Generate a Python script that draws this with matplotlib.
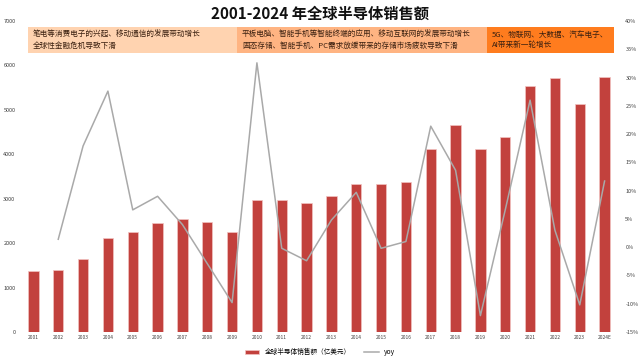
import matplotlib
matplotlib.use("Agg")
import matplotlib.pyplot as plt
from matplotlib.patches import Rectangle
from matplotlib.ticker import FuncFormatter

plt.rcParams['font.family'] = ['Noto Sans CJK SC', 'DejaVu Sans']

years = ["2001", "2002", "2003", "2004", "2005", "2006", "2007", "2008",
         "2009", "2010", "2011", "2012", "2013", "2014", "2015", "2016",
         "2017", "2018", "2019", "2020", "2021", "2022", "2023", "2024E"]
sales = [1380, 1400, 1650, 2110, 2260, 2460, 2550, 2480,
         2240, 2970, 2970, 2900, 3050, 3340, 3340, 3370,
         4110, 4670, 4110, 4390, 5540, 5710, 5130, 5740]
# first year has no growth value
yoy = [None, 1.4, 17.9, 27.6, 6.6, 9.0, 4.0, -2.9,
       -9.8, 32.6, -0.2, -2.4, 4.8, 9.7, -0.2, 1.0,
       21.4, 13.6, -12.1, 6.6, 26.0, 3.0, -10.2, 11.7]

notes = ["笔电等消费电子的兴起、移动通信的发展带动增长\n全球性金融危机导致下滑",
         "平板电脑、智能手机等智能终端的应用、移动互联网的发展带动增长\n固态存储、智能手机、PC需求放缓带来的存储市场疲软导致下滑",
         "5G、物联网、大数据、汽车电子、\nAI带来新一轮增长"]
note_colors = ["#FFD3B0", "#FFB482", "#FF7C1E"]
note_spans = [(28, 237), (237, 487), (487, 614)]

W, H = 640, 359
fig = plt.figure(figsize=(6.4, 3.59), dpi=100)
ax = fig.add_axes([21 / W, 1 - 332 / H, (617 - 21) / W, (332 - 21) / H])
ax2 = ax.twinx()

x = list(range(len(years)))
bar_label = "全球半导体销售额（亿美元）"
bars = ax.bar(x, sales, width=0.42, color="#C2413D", edgecolor="#F2C4C2",
              linewidth=0.5, label=bar_label, zorder=2)
yx = [i for i, v in zip(x, yoy) if v is not None]
yv = [v for v in yoy if v is not None]
line, = ax2.plot(yx, yv, color="#A9A9A9", lw=1.1, label="yoy", zorder=3)

ax.set_xlim(-0.5, len(years) - 0.5)
ax.set_ylim(0, 7000)
ax.set_yticks(range(0, 7001, 1000))
ax2.set_ylim(-15, 40)
ax2.set_yticks(range(-15, 41, 5))
ax2.yaxis.set_major_formatter(FuncFormatter(lambda v, p: f"{int(v)}%"))
ax.set_xticks(x)
ax.set_xticklabels(years)

for a in (ax, ax2):
    for s in a.spines.values():
        s.set_visible(False)
    a.tick_params(length=0, labelsize=4, colors="#404040")
ax.tick_params(axis="x", labelsize=3.5, pad=2)
ax.tick_params(axis="y", pad=4)
ax2.tick_params(axis="y", pad=6)

# annotation boxes across the top
for txt, col, (x0, x1) in zip(notes, note_colors, note_spans):
    fig.add_artist(Rectangle((x0 / W, 1 - 53 / H), (x1 - x0) / W, 26 / H,
                             transform=fig.transFigure, facecolor=col,
                             edgecolor="none", zorder=1))
    fig.text((x0 + 5) / W, 1 - 40 / H, txt, fontsize=5.5, color="#3A2010",
             va="center", ha="left", linespacing=1.5, fontweight="medium",
             zorder=2)

fig.text(0.5, 1 - 14 / H, "2001-2024 年全球半导体销售额", ha="center",
         va="center", fontsize=11, fontweight="bold", color="#111111")

fig.legend(handles=[bars, line], labels=[bar_label, "yoy"], loc="center",
           bbox_to_anchor=(0.5, 1 - 352 / H), ncol=2, frameon=False,
           fontsize=4.8, handlelength=2.2, handleheight=0.6, columnspacing=2)

fig.savefig("out.png", dpi=100, facecolor="white")
